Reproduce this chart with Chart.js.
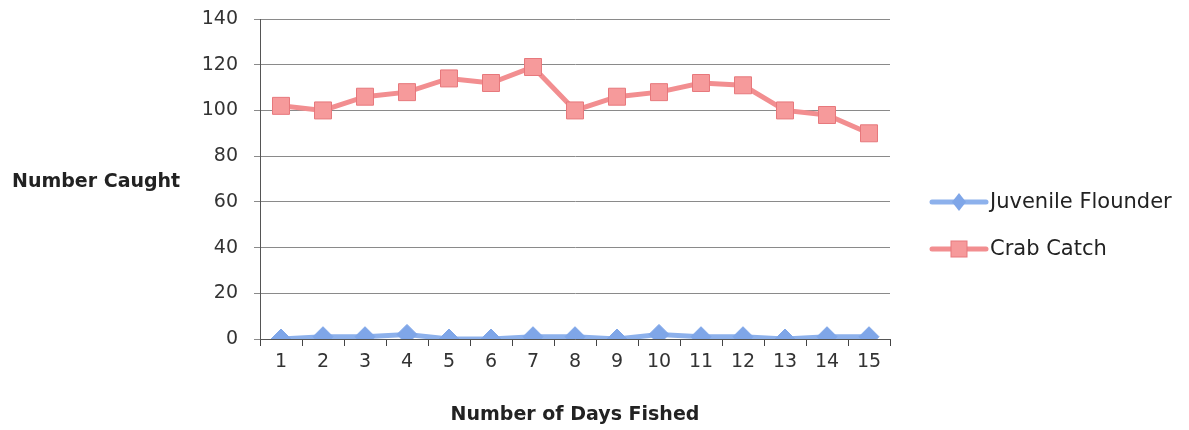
<!DOCTYPE html>
<html>
<head>
<meta charset="utf-8">
<script src="https://cdn.jsdelivr.net/npm/chart.js@4"></script>
<style>
  html, body { margin: 0; padding: 0; background: #fff; }
  #wrap { width: 1189px; height: 430px; position: relative; }
</style>
</head>
<body>
<div id="wrap"><canvas id="chart"></canvas></div>
<script>
// Data
const days = ['1', '2', '3', '4', '5', '6', '7', '8', '9', '10', '11', '12', '13', '14', '15'];
const flounder = [0, 1, 1, 2, 0, 0, 1, 1, 0, 2, 1, 1, 0, 1, 1];
const crab = [102, 100, 106, 108, 114, 112, 119, 100, 106, 108, 112, 111, 100, 98, 90];
const yTitle = 'Number Caught';
const xTitle = 'Number of Days Fished';

const font = '"DejaVu Sans", sans-serif';

// Horizontal y-axis title on the left
const yTitlePlugin = {
    id: 'yTitle',
    afterDraw(chart) {
        const { ctx, chartArea: { top, bottom } } = chart;
        ctx.save();
        ctx.font = 'bold 19px ' + font;
        ctx.fillStyle = '#222';
        ctx.textBaseline = 'middle';
        ctx.fillText(yTitle, 12, (top + bottom) / 2 + 3);
        ctx.restore();
    }
};

// Legend drawn as line + marker, like the reference
const sideLegend = {
    id: 'sideLegend',
    afterDraw(chart) {
        const { ctx } = chart;
        const x0 = 932, rows = [202, 249];
        ctx.save();
        chart.data.datasets.forEach((ds, i) => {
            const y = rows[i];
            ctx.strokeStyle = ds.borderColor;
            ctx.lineWidth = 5;
            ctx.lineCap = 'round';
            ctx.beginPath();
            ctx.moveTo(x0, y);
            ctx.lineTo(x0 + 54, y);
            ctx.stroke();
            ctx.fillStyle = ds.pointBackgroundColor;
            if (ds.pointStyle === 'rectRot') {
                ctx.beginPath();
                ctx.moveTo(x0 + 27, y - 9);
                ctx.lineTo(x0 + 34, y);
                ctx.lineTo(x0 + 27, y + 9);
                ctx.lineTo(x0 + 20, y);
                ctx.closePath();
                ctx.fill();
            } else {
                ctx.fillRect(x0 + 19, y - 8, 16, 16);
                ctx.strokeStyle = ds.pointBorderColor;
                ctx.lineWidth = 1;
                ctx.strokeRect(x0 + 19, y - 8, 16, 16);
            }
            ctx.fillStyle = '#222';
            ctx.font = '21px ' + font;
            ctx.textBaseline = 'middle';
            ctx.fillText(ds.label, x0 + 58, y + 1);
        });
        ctx.restore();
    }
};

new Chart(document.getElementById('chart'), {
    type: 'line',
    data: {
        labels: days,
        datasets: [{
            label: 'Juvenile Flounder',
            data: flounder,
            borderColor: '#8DB1EC',
            borderWidth: 5,
            pointStyle: 'rectRot',
            pointRadius: 10,
            pointBackgroundColor: '#7FA6E8',
            pointBorderColor: '#7FA6E8',
            pointBorderWidth: 1,
            tension: 0
        }, {
            label: 'Crab Catch',
            data: crab,
            borderColor: '#F28E90',
            borderWidth: 5,
            pointStyle: 'rect',
            pointRadius: 12,
            pointBackgroundColor: '#F69A9B',
            pointBorderColor: '#E7787C',
            pointBorderWidth: 1,
            tension: 0
        }]
    },
    options: {
        responsive: true,
        maintainAspectRatio: false,
        animation: false,
        layout: { padding: { top: 19, right: 299, left: 0, bottom: 0 } },
        plugins: {
            legend: { display: false },
            tooltip: { enabled: false }
        },
        scales: {
            x: {
                offset: true,
                afterFit: s => { s.height = 91; },
                grid: { display: true, offset: true, drawOnChartArea: false, tickLength: 7, color: '#444', lineWidth: 1 },
                border: { color: '#555', width: 1 },
                ticks: { color: '#333', font: { family: font, size: 19 }, padding: 5 },
                title: { display: true, text: xTitle, color: '#222', font: { family: font, size: 19, weight: 'bold' }, padding: { top: 12 } }
            },
            y: {
                min: 0,
                max: 140,
                afterFit: s => { s.width = 260; s.paddingTop = 0; s.paddingBottom = 0; },
                grid: { color: '#8a8a8a', lineWidth: 1, tickLength: 6 },
                border: { color: '#555', width: 1 },
                ticks: { stepSize: 20, color: '#333', font: { family: font, size: 19 }, padding: 16 }
            }
        }
    },
    plugins: [yTitlePlugin, sideLegend]
});
</script>
</body>
</html>
